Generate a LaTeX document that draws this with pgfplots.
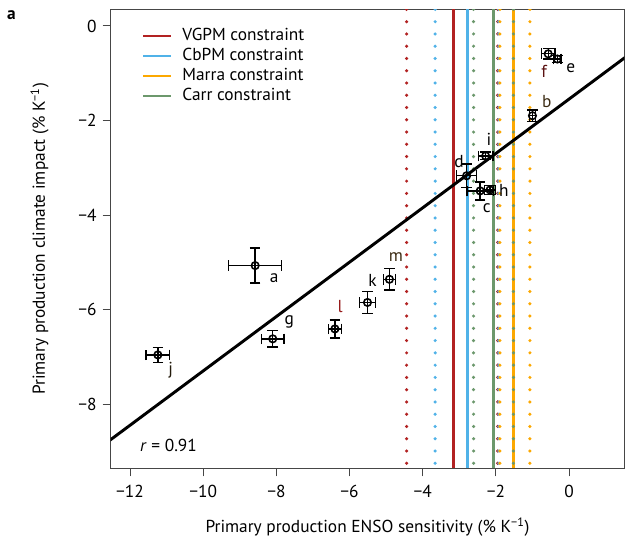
\documentclass[border=0pt]{standalone}
\usepackage{pgfplots}
\pgfplotsset{compat=1.18}
\usepackage{pgfplotstable}
\usepackage{fontspec}
\setmainfont{PT Sans}
\usetikzlibrary{calc}

\definecolor{vgpm}{RGB}{178,34,34}
\definecolor{cbpm}{RGB}{80,178,232}
\definecolor{marra}{RGB}{252,168,0}
\definecolor{carr}{RGB}{108,152,108}
\definecolor{axisgray}{RGB}{70,70,70}
\definecolor{letterred}{RGB}{150,28,28}
\definecolor{letterbrown}{RGB}{60,44,20}

% model ensemble: ENSO sensitivity (x), climate impact (y) and their uncertainties
\pgfplotstableread{
name x      y      ex    ey
a    -8.58  -5.07  0.72  0.37
b    -1.00  -1.90  0.08  0.12
c    -2.43  -3.49  0.36  0.19
d    -2.80  -3.17  0.27  0.25
e    -0.32  -0.70  0.10  0.08
f    -0.57  -0.59  0.19  0.11
g    -8.10  -6.62  0.31  0.17
h    -2.16  -3.47  0.15  0.10
i    -2.28  -2.75  0.20  0.08
j    -11.24 -6.96  0.32  0.16
k    -5.51  -5.85  0.22  0.23
l    -6.40  -6.41  0.18  0.19
m    -4.91  -5.36  0.16  0.23
}\models

\tikzset{
  solidc/.style={line width=2pt},
  dotc/.style={line width=2.6pt, line cap=round, dash pattern=on 0pt off 9.2pt},
}

\begin{document}
\fontsize{13}{15.5}\selectfont
\begin{tikzpicture}
\begin{axis}[
  name=ax,
  scale only axis,
  width=385.2pt, height=344.2pt,
  xmin=-12.53, xmax=1.51,
  ymin=-9.36, ymax=0.35,
  xtick={-12,-10,-8,-6,-4,-2,0},
  xticklabels={−12,−10,−8,−6,−4,−2,0},
  ytick={-8,-6,-4,-2,0},
  yticklabels={−8,−6,−4,−2,0},
  xtick pos=left, ytick pos=left,
  tick align=outside,
  major tick length=6pt,
  xticklabel style={yshift=-2pt},
  tick style={line width=0.75pt, color=axisgray},
  axis line style={line width=0.75pt, color=axisgray},
  legend cell align=left,
  legend style={draw=none, fill=none, inner sep=0pt,
    at={(rel axis cs:0.06,0.96)}, anchor=north west,
    row sep=3pt, column sep=7.5pt,
    nodes={inner sep=0pt, text height=9pt, text depth=3pt}},
  legend image code/.code={\draw[#1, line width=2pt] (0pt,0pt) -- (21pt,0pt);},
]

% VGPM constraint: central estimate and range
\addplot[vgpm, solidc] coordinates {(-3.16,0.35) (-3.16,-9.36)};
\addlegendentry{VGPM constraint}
\addplot[vgpm, dotc, forget plot] coordinates {(-4.44,0.35) (-4.44,-9.36)};
\addplot[vgpm, dotc, forget plot] coordinates {(-1.95,0.35) (-1.95,-9.36)};

% CbPM constraint
\addplot[cbpm, solidc] coordinates {(-2.77,0.35) (-2.77,-9.36)};
\addlegendentry{CbPM constraint}
\addplot[cbpm, dotc, forget plot] coordinates {(-3.66,0.35) (-3.66,-9.36)};
\addplot[cbpm, dotc, forget plot] coordinates {(-1.92,0.35) (-1.92,-9.36)};

% Marra constraint
\addplot[marra, solidc] coordinates {(-1.51,0.35) (-1.51,-9.36)};
\addlegendentry{Marra constraint}
\addplot[marra, dotc, forget plot] coordinates {(-1.89,0.35) (-1.89,-9.36)};
\addplot[marra, dotc, forget plot] coordinates {(-1.07,0.35) (-1.07,-9.36)};

% Carr constraint
\addplot[carr, solidc] coordinates {(-2.07,0.35) (-2.07,-9.36)};
\addlegendentry{Carr constraint}
\addplot[carr, dotc, forget plot] coordinates {(-2.61,0.35) (-2.61,-9.36)};
\addplot[carr, dotc, forget plot] coordinates {(-1.52,0.35) (-1.52,-9.36)};

% linear regression across the ensemble
\addplot[black, line width=2.2pt, forget plot] coordinates {(-12.6,-8.793) (1.6,-0.628)};

% models with error bars
\addplot[only marks, black, mark=o, mark size=2.8pt,
  mark options={line width=1.2pt, black},
  forget plot,
  error bars/.cd,
    x dir=both, x explicit,
    y dir=both, y explicit,
    error bar style={line width=1pt, black},
    error mark=|,
    error mark options={line width=1pt, mark size=4pt, black}]
  table[x=x, y=y, x error=ex, y error=ey] {\models};

% model letters
\node at (axis cs:-8.06,-5.33) {a};
\node[text=letterbrown] at (axis cs:-0.61,-1.60) {b};
\node at (axis cs:-2.25,-3.86) {c};
\node at (axis cs:-3.01,-2.87) {d};
\node at (axis cs:0.05,-0.90) {e};
\node[text=letterred!60!black] at (axis cs:-0.68,-0.97) {f};
\node at (axis cs:-7.65,-6.26) {g};
\node at (axis cs:-1.78,-3.47) {h};
\node at (axis cs:-2.19,-2.41) {i};
\node[text=letterbrown!60!black] at (axis cs:-10.89,-7.28) {j};
\node at (axis cs:-5.37,-5.38) {k};
\node[text=letterred] at (axis cs:-6.26,-5.94) {l};
\node[text=letterbrown] at (axis cs:-4.73,-4.89) {m};

\node[anchor=west, inner sep=0pt] at (axis cs:-11.73,-8.87) {\textit{r} = 0.91};

\coordinate (bl) at (rel axis cs:0,0);
\coordinate (tr) at (rel axis cs:1,1);
\end{axis}

\node at ($(ax.south)+(0,-44pt)$) {Primary production ENSO sensitivity (\% K\textsuperscript{−1})};
\node[rotate=90] at ($(ax.west)+(-53.3pt,0)$) {Primary production climate impact (\% K\textsuperscript{−1})};
\node[font=\bfseries] at ($(ax.north west)+(-74.4pt,-4.6pt)$) {a};

\pgfresetboundingbox
\path[use as bounding box] ($(bl)+(-83pt,-53pt)$) rectangle ($(tr)+(11.8pt,7.05pt)$);
\end{tikzpicture}
\end{document}
